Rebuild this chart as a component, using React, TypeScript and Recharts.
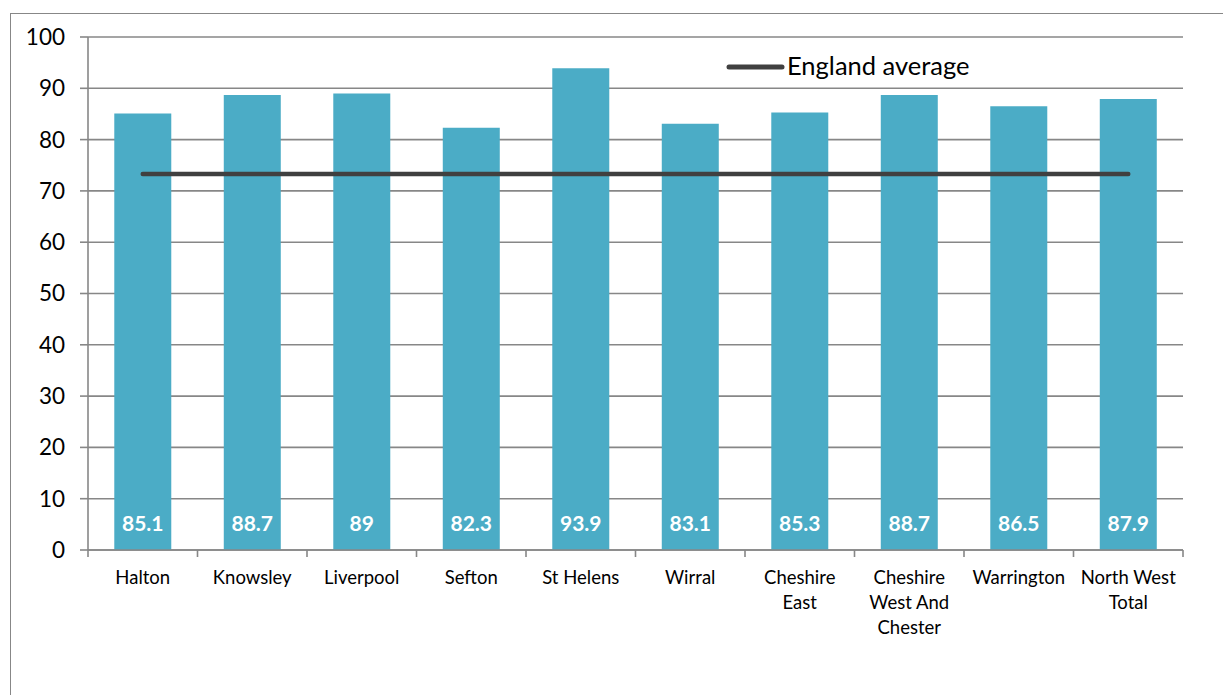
import React from "react";
import {
  ComposedChart,
  Bar,
  Line,
  XAxis,
  YAxis,
  CartesianGrid,
  LabelList,
  Legend,
} from "recharts";

const categories = [
  "Halton",
  "Knowsley",
  "Liverpool",
  "Sefton",
  "St Helens",
  "Wirral",
  "Cheshire East",
  "Cheshire West And Chester",
  "Warrington",
  "North West Total",
];
const values = [85.1, 88.7, 89, 82.3, 93.9, 83.1, 85.3, 88.7, 86.5, 87.9];
const englandAverage = [73.3, 73.3, 73.3, 73.3, 73.3, 73.3, 73.3, 73.3, 73.3, 73.3];
const yTicks = [0, 10, 20, 30, 40, 50, 60, 70, 80, 90, 100];

const data = categories.map((name, i) => ({
  name,
  value: values[i],
  england: englandAverage[i],
}));

const GRID = "#878787";
const BAR = "#4BACC6";
const LINE = "#404040";
const FONT = "Lato, 'Open Sans', sans-serif";

function wrap(label: string, max: number): string[] {
  const words = label.split(" ");
  const lines: string[] = [];
  let cur = "";
  for (const w of words) {
    const next = cur ? cur + " " + w : w;
    if (next.length > max && cur) {
      lines.push(cur);
      cur = w;
    } else {
      cur = next;
    }
  }
  if (cur) lines.push(cur);
  return lines;
}

const CategoryTick = (props: any) => {
  const { x, y, payload, index, visibleTicksCount } = props;
  const lines = wrap(String(payload.value), 10);
  const half = typeof payload.offset === "number" && payload.offset > 0 ? payload.offset : 0;
  const isLast = index === (visibleTicksCount ?? categories.length) - 1;
  return (
    <g>
      {half > 0 && (
        <line x1={x - half} y1={y} x2={x - half} y2={y + 7} stroke={GRID} strokeWidth={1.6} />
      )}
      {half > 0 && isLast && (
        <line x1={x + half} y1={y} x2={x + half} y2={y + 7} stroke={GRID} strokeWidth={1.6} />
      )}
      {lines.map((l, i) => (
        <text
          key={i}
          x={x}
          y={y + 34 + i * 25}
          textAnchor="middle"
          fontSize={18.5}
          fontFamily={FONT}
          fill="#000"
        >
          {l}
        </text>
      ))}
    </g>
  );
};

const LegendContent = () => (
  <svg width={280} height={36} style={{ display: "block" }}>
    <line x1={3} y1={18} x2={56} y2={18} stroke={LINE} strokeWidth={5} strokeLinecap="round" />
    <text x={61} y={26} fontSize={25.5} fontFamily={FONT} fill="#000">
      England average
    </text>
  </svg>
);

export default function App() {
  return (
    <div style={{ position: "absolute", left: 0, top: 0, width: 1223, height: 695, overflow: "hidden", background: "#fff", fontFamily: FONT }}>
      <div
        style={{
          position: "absolute",
          left: 9.5,
          top: 12.5,
          width: 1300,
          height: 800,
          borderLeft: `1.8px solid ${GRID}`,
          borderTop: `1.8px solid ${GRID}`,
        }}
      />
      <div style={{ position: "absolute", left: 0, top: 0 }}>
        <ComposedChart
          width={1223}
          height={695}
          data={data}
          margin={{ top: 37, right: 40, bottom: 45, left: 0 }}
          barCategoryGap="24%"
        >
          <CartesianGrid vertical={false} stroke={GRID} strokeWidth={1.6} />
          <XAxis
            dataKey="name"
            interval={0}
            tickLine={false}
            tickSize={0}
            tickMargin={0}
            axisLine={{ stroke: GRID, strokeWidth: 1.6 }}
            tick={<CategoryTick />}
            height={100}
          />
          <YAxis
            domain={[0, 100]}
            ticks={yTicks}
            interval={0}
            width={88}
            tickSize={8}
            tickMargin={15}
            tickLine={{ stroke: GRID, strokeWidth: 1.6 }}
            axisLine={{ stroke: GRID, strokeWidth: 1.6 }}
            tick={{ fill: "#000", fontSize: 22.5, fontFamily: FONT }}
          />
          <Legend
            verticalAlign="middle"
            align="center"
            layout="horizontal"
            content={<LegendContent />}
            wrapperStyle={{ position: "absolute", left: 726, top: 49, width: 280, height: 36 }}
          />
          <Bar dataKey="value" fill={BAR} isAnimationActive={false} legendType="none">
            <LabelList
              dataKey="value"
              position="insideBottom"
              offset={19}
              fill="#fff"
              fontWeight="bold"
              fontSize={21}
              fontFamily={FONT}
            />
          </Bar>
          <Line
            dataKey="england"
            name="England average"
            stroke={LINE}
            strokeWidth={4.5}
            strokeLinecap="round"
            dot={false}
            activeDot={false}
            isAnimationActive={false}
          />
        </ComposedChart>
      </div>
    </div>
  );
}
